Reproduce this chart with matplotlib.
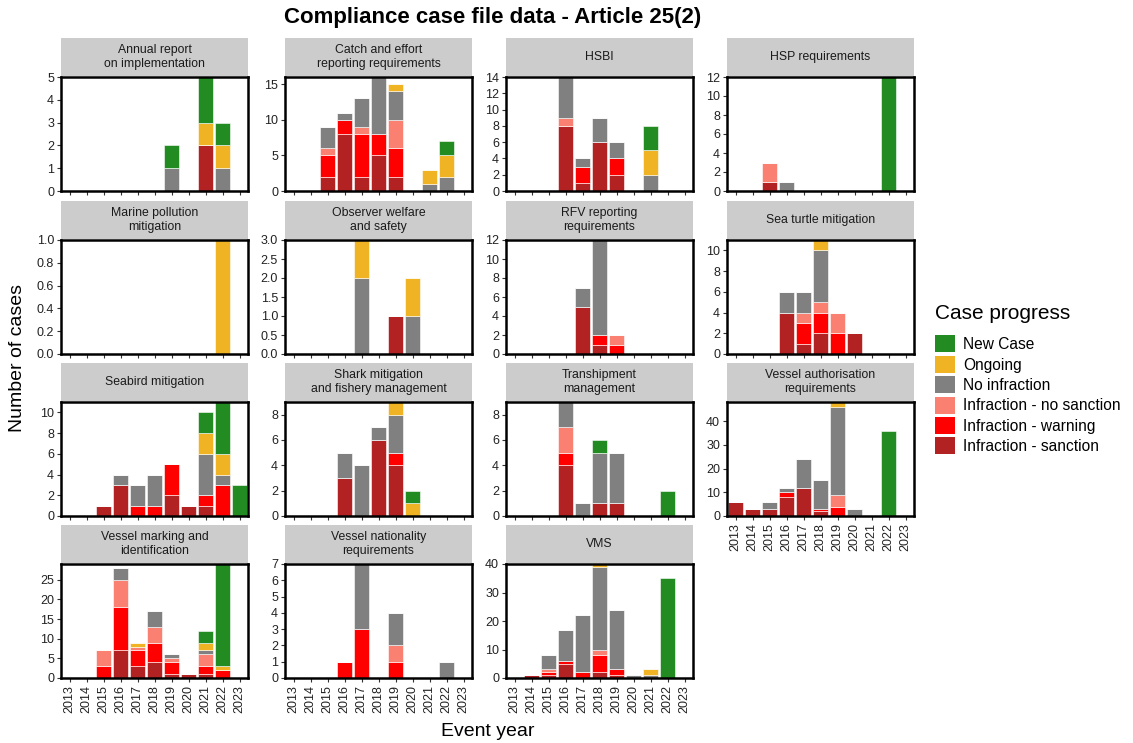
import matplotlib.pyplot as plt
import numpy as np
from matplotlib.patches import Patch

plt.rcParams['font.family'] = ['Liberation Sans', 'DejaVu Sans']

years = list(range(2013, 2024))

# stacking order, bottom to top
statuses = ['Infraction - sanction', 'Infraction - warning', 'Infraction - no sanction',
            'No infraction', 'Ongoing', 'New Case']
colours = ['#b22222', '#ff0000', '#fa8072', '#808080', '#efb323', '#228b22']

# counts per year: [sanction, warning, no sanction, no infraction, ongoing, new]
annual_report = {2019: [0, 0, 0, 1, 0, 1], 2021: [2, 0, 0, 0, 1, 2], 2022: [0, 0, 0, 1, 1, 1]}
catch_effort = {2015: [2, 3, 1, 3, 0, 0], 2016: [8, 2, 0, 1, 0, 0], 2017: [2, 6, 1, 4, 0, 0],
                2018: [5, 3, 0, 8, 0, 0], 2019: [2, 4, 4, 4, 1, 0], 2021: [0, 0, 0, 1, 2, 0],
                2022: [0, 0, 0, 2, 3, 2]}
hsbi = {2016: [8, 0, 1, 5, 0, 0], 2017: [1, 2, 0, 1, 0, 0], 2018: [6, 0, 0, 3, 0, 0],
        2019: [2, 2, 0, 2, 0, 0], 2021: [0, 0, 0, 2, 3, 3]}
hsp = {2015: [1, 0, 2, 0, 0, 0], 2016: [0, 0, 0, 1, 0, 0], 2022: [0, 0, 0, 0, 0, 12]}
marine_pollution = {2022: [0, 0, 0, 0, 1, 0]}
observer_welfare = {2017: [0, 0, 0, 2, 1, 0], 2019: [1, 0, 0, 0, 0, 0], 2020: [0, 0, 0, 1, 1, 0]}
rfv_reporting = {2017: [5, 0, 0, 2, 0, 0], 2018: [1, 1, 0, 10, 0, 0], 2019: [0, 1, 1, 0, 0, 0]}
sea_turtle = {2016: [4, 0, 0, 2, 0, 0], 2017: [1, 2, 1, 2, 0, 0], 2018: [2, 2, 1, 5, 1, 0],
              2019: [0, 2, 2, 0, 0, 0], 2020: [2, 0, 0, 0, 0, 0]}
seabird = {2015: [1, 0, 0, 0, 0, 0], 2016: [3, 0, 0, 1, 0, 0], 2017: [0, 1, 0, 2, 0, 0],
           2018: [0, 1, 0, 3, 0, 0], 2019: [2, 3, 0, 0, 0, 0], 2020: [1, 0, 0, 0, 0, 0],
           2021: [1, 1, 0, 4, 2, 2], 2022: [0, 3, 0, 1, 2, 5], 2023: [0, 0, 0, 0, 0, 3]}
shark = {2016: [3, 0, 0, 2, 0, 0], 2017: [0, 0, 0, 4, 0, 0], 2018: [6, 0, 0, 1, 0, 0],
         2019: [4, 1, 0, 3, 1, 0], 2020: [0, 0, 0, 0, 1, 1]}
transhipment = {2016: [4, 1, 2, 2, 0, 0], 2017: [0, 0, 0, 1, 0, 0], 2018: [1, 0, 0, 4, 0, 1],
                2019: [1, 0, 0, 4, 0, 0], 2022: [0, 0, 0, 0, 0, 2]}
vessel_authorisation = {2013: [6, 0, 0, 0, 0, 0], 2014: [3, 0, 0, 0, 0, 0], 2015: [3, 0, 0, 3, 0, 0],
                        2016: [8, 2, 0, 2, 0, 0], 2017: [12, 0, 0, 12, 0, 0], 2018: [2, 1, 0, 12, 0, 0],
                        2019: [0, 4, 5, 37, 2, 0], 2020: [0, 0, 0, 3, 0, 0], 2022: [0, 0, 0, 0, 0, 36]}
vessel_marking = {2015: [0, 3, 4, 0, 0, 0], 2016: [7, 11, 7, 3, 0, 0], 2017: [3, 4, 1, 0, 1, 0],
                  2018: [4, 5, 4, 4, 0, 0], 2019: [1, 3, 1, 1, 0, 0], 2020: [1, 0, 0, 0, 0, 0],
                  2021: [1, 2, 3, 1, 2, 3], 2022: [0, 2, 0, 0, 1, 26]}
vessel_nationality = {2016: [0, 1, 0, 0, 0, 0], 2017: [0, 3, 0, 4, 0, 0], 2019: [0, 1, 1, 2, 0, 0],
                      2022: [0, 0, 0, 1, 0, 0]}
vms = {2014: [1, 0, 0, 0, 0, 0], 2015: [1, 1, 1, 5, 0, 0], 2016: [5, 1, 0, 11, 0, 0],
       2017: [0, 2, 0, 20, 0, 0], 2018: [2, 6, 2, 29, 1, 0], 2019: [1, 2, 0, 21, 0, 0],
       2020: [0, 0, 0, 1, 0, 0], 2021: [0, 0, 0, 1, 2, 0], 2022: [0, 0, 0, 0, 0, 35]}

panel_titles = ['Annual report\non implementation', 'Catch and effort\nreporting requirements',
                'HSBI', 'HSP requirements', 'Marine pollution\nmitigation',
                'Observer welfare\nand safety', 'RFV reporting\nrequirements', 'Sea turtle mitigation',
                'Seabird mitigation', 'Shark mitigation\nand fishery management',
                'Transhipment\nmanagement', 'Vessel authorisation\nrequirements',
                'Vessel marking and\nidentification', 'Vessel nationality\nrequirements', 'VMS']
panel_data = [annual_report, catch_effort, hsbi, hsp, marine_pollution, observer_welfare,
              rfv_reporting, sea_turtle, seabird, shark, transhipment, vessel_authorisation,
              vessel_marking, vessel_nationality, vms]
tick_steps = [1, 5, 2, 2, 0.2, 0.5, 2, 2, 2, 2, 2, 10, 5, 1, 10]

W, H = 1133, 743
fig = plt.figure(figsize=(W / 100, H / 100), dpi=100)

col_left = [61, 285, 506, 727]
ax_top = [77, 240, 402, 564]
ax_w, ax_h, strip_h = 187, 114, 39

def px_rect(left, top, w, h):
    return [left / W, 1 - (top + h) / H, w / W, h / H]

for i, (title, data) in enumerate(zip(panel_titles, panel_data)):
    r, c = divmod(i, 4)
    ax = fig.add_axes(px_rect(col_left[c], ax_top[r], ax_w, ax_h))
    counts = np.zeros((len(years), len(statuses)))
    for yr, vals in data.items():
        counts[years.index(yr)] = vals
    bottom = np.zeros(len(years))
    for k, col in enumerate(colours):
        ax.bar(years, counts[:, k], bottom=bottom, width=0.9, color=col,
               edgecolor='white', linewidth=0.4)
        bottom += counts[:, k]
    top = bottom.max()
    ax.set_xlim(2012.5, 2023.5)
    ax.set_ylim(0, top)
    step = tick_steps[i]
    ticks = np.arange(0, top + 1e-9, step)
    ax.set_yticks(ticks)
    if step < 1:
        ax.set_yticklabels(['%.1f' % t for t in ticks])
    ax.set_xticks(years)
    bottom_panel = r == 3 or (r == 2 and c == 3)
    if bottom_panel:
        ax.set_xticklabels([str(y) for y in years], rotation=90)
    else:
        ax.set_xticklabels([])
        ax.tick_params(axis='x', length=0)
    ax.tick_params(labelsize=9, colors='#333333', length=3, width=0.8, pad=2)
    ax.tick_params(axis='x', labelcolor='#222222')
    ax.tick_params(axis='y', labelcolor='#222222')
    for s in ax.spines.values():
        s.set_linewidth(1.8)
        s.set_color('black')
    # facet strip
    sax = fig.add_axes(px_rect(col_left[c], ax_top[r] - strip_h, ax_w, strip_h - 1))
    sax.set_facecolor('#cccccc')
    sax.set_xticks([])
    sax.set_yticks([])
    for s in sax.spines.values():
        s.set_visible(False)
    sax.text(0.5, 0.5, title, ha='center', va='center', fontsize=8.8,
             color='#1a1a1a', linespacing=1.2, transform=sax.transAxes)

fig.text(493 / W, 1 - 17 / H, 'Compliance case file data - Article 25(2)',
         ha='center', va='center', fontsize=16, fontweight='bold')
fig.text(18 / W, 1 - 358 / H, 'Number of cases', rotation=90, ha='center',
         va='center', fontsize=14)
fig.text(488 / W, 1 - 731 / H, 'Event year', ha='center', va='center', fontsize=14)

handles = [Patch(facecolor=col, edgecolor='none') for col in colours[::-1]]
fig.legend(handles, statuses[::-1], title='Case progress', loc='upper left',
           bbox_to_anchor=(921 / W, 1 - 290 / H), frameon=False, fontsize=11.2,
           title_fontsize=15, handlelength=1.3, handleheight=1.3,
           handletextpad=0.5, labelspacing=0.22, alignment='left')
fig.legends[0].get_title().set_position((0, 0))
fig.legends[0]._legend_box.sep = 9

fig.savefig('out.png', dpi=100)
